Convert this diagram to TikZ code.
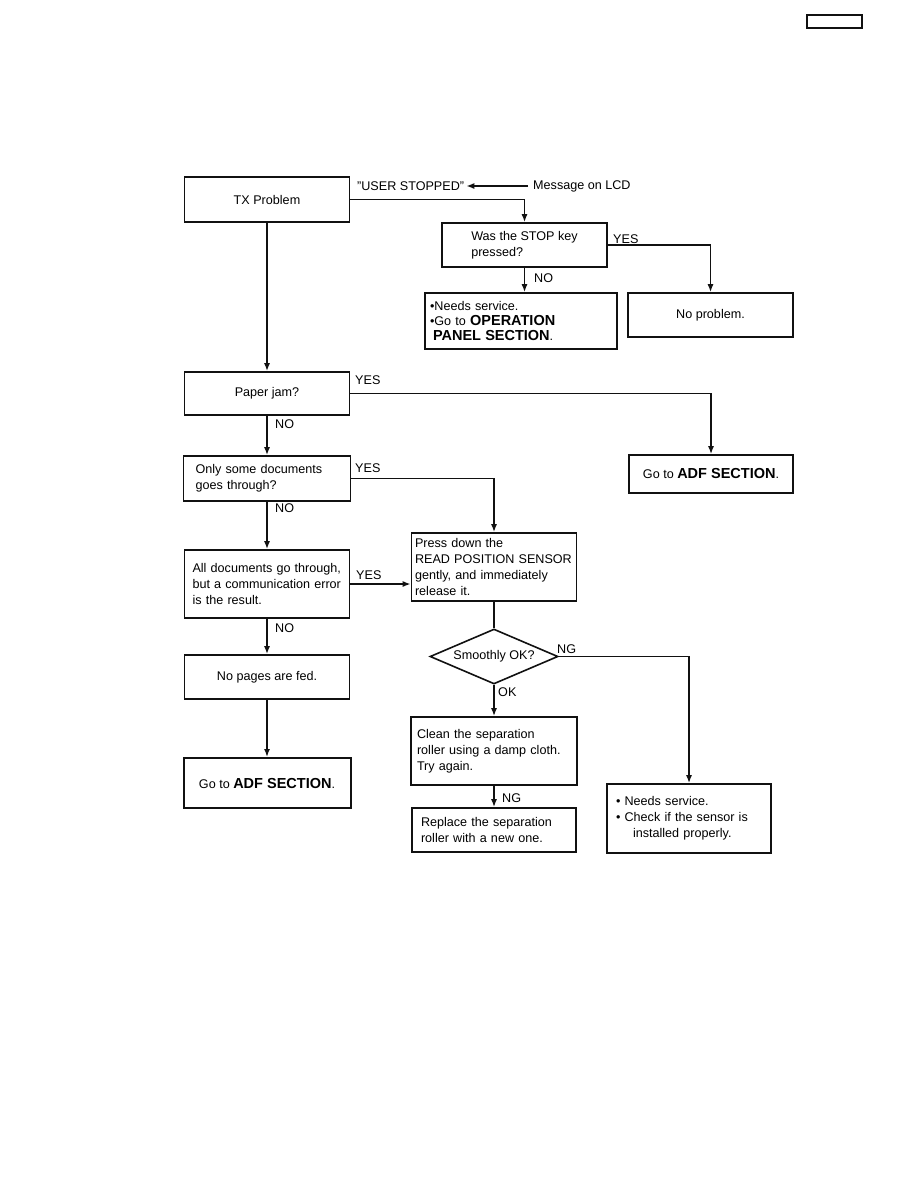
\documentclass[tikz,border=0pt]{standalone}
\usepackage{fontspec}
\setmainfont{Liberation Sans}
\usetikzlibrary{arrows.meta,positioning,shapes.geometric}
\definecolor{Ink}{HTML}{111111}
\newcommand{\flowfont}{\fontsize{12.6}{15.8}\selectfont}
\newcommand{\bigsec}[1]{{\fontsize{14.5}{16}\selectfont\bfseries #1}}
\tikzset{
  cbox/.style={rectangle,draw=Ink,line width=1.6pt,inner sep=0pt,
               font=\flowfont,align=center},
  lbox/.style={cbox,align=left,text width=#1},
  dbox/.style={diamond,draw=Ink,line width=1.6pt,inner sep=0pt,aspect=2.3,
               font=\flowfont},
  tag/.style={font=\flowfont,inner sep=0pt,anchor=west},
  farr/.style={-{Latex[length=8pt,width=6pt]},line width=1.5pt,color=Ink},
  fline/.style={line width=1.5pt,color=Ink},
}

\begin{document}
\begin{tikzpicture}[x=1pt,y=-1pt]
  \useasboundingbox (0,0) rectangle (918,1188);

  \node[rectangle,draw=Ink,line width=1.6pt,minimum width=55pt,minimum height=13pt]
    (pid) at (834.5,21.5){};

  \node[cbox,minimum width=165pt,minimum height=45pt] (tx) at (267,199.5){TX Problem};
  \node[tag] (usr) at (357,186){"USER STOPPED"};
  \node[tag] (lcd) at (533,186){Message on LCD};

  \node[cbox,align=left,minimum width=165pt,minimum height=44pt]
    (stopq) at (524.5,245){Was the STOP key\\pressed?};
  \node[lbox=182pt,minimum width=192pt,minimum height=56pt,
        font=\fontsize{12.6}{15.2}\selectfont]
    (opsvc) at (521,321){\textbullet Needs service.\\
                         \textbullet Go to \bigsec{OPERATION}\\
                         \hspace*{3pt}\bigsec{PANEL SECTION}.};
  \node[cbox,minimum width=165pt,minimum height=44pt] (noprob) at (710.5,315){No problem.};

  \node[cbox,minimum width=165pt,minimum height=43pt] (jam) at (267,393.5){Paper jam?};
  \node[cbox,minimum width=164pt,minimum height=38pt]
    (adfR) at (711,474){Go to \bigsec{ADF SECTION}.};

  \node[lbox=143pt,minimum width=167pt,minimum height=45pt]
    (some) at (267,478.5){Only some documents\\goes through?};
  \node[lbox=149pt,minimum width=165pt,minimum height=68pt]
    (allgo) at (267,584){All documents go through,\\but a communication error\\is the result.};
  \node[cbox,minimum width=165pt,minimum height=44pt] (nofeed) at (267,677){No pages are fed.};
  \node[cbox,line width=2pt,minimum width=167pt,minimum height=50pt]
    (adfL) at (267,783){Go to \bigsec{ADF SECTION}.};

  \node[lbox=158pt,minimum width=165pt,minimum height=68pt]
    (press) at (494,567){Press down the\\READ POSITION SENSOR\\gently, and immediately\\release it.};
  \node[dbox,minimum width=128pt,minimum height=55pt] (smooth) at (494,656.5){Smoothly OK?};
  \node[lbox=154pt,minimum width=166pt,minimum height=68pt]
    (clean) at (494,751){Clean the separation\\roller using a damp cloth.\\Try again.};
  \node[lbox=146pt,minimum width=164pt,minimum height=44pt]
    (replace) at (494,830){Replace the separation\\roller with a new one.};
  \node[lbox=146pt,minimum width=164pt,minimum height=69pt]
    (svc) at (689,818.5){\textbullet\ Needs service.\\
                         \textbullet\ Check if the sensor is\\
                         \hspace*{17pt}installed properly.};

  \node[tag] (yes1) at (613,239){YES};
  \node[tag] (no1)  at (534,278){NO};
  \node[tag] (yes2) at (355,380){YES};
  \node[tag] (no2)  at (275,424){NO};
  \node[tag] (yes3) at (355,468){YES};
  \node[tag] (no3)  at (275,508){NO};
  \node[tag] (yes4) at (356,575){YES};
  \node[tag] (no4)  at (275,628){NO};
  \node[tag] (ng1)  at (557,649){NG};
  \node[tag] (ok1)  at (498,692){OK};
  \node[tag] (ng2)  at (502,798){NG};

  \draw[farr] ([xshift=-5pt]lcd.west) -- ([xshift=2pt]usr.east);
  \draw[farr] (tx.east) -| (stopq.north);
  \draw[farr] (stopq.east) -| (noprob.north);
  \draw[farr] (stopq.south) -- (stopq.south |- opsvc.north);
  \draw[farr] (tx.south) -- (jam.north);
  \draw[farr] (jam.east) -| (adfR.north);
  \draw[farr] (jam.south) -- (some.north);
  \draw[farr] (some.east) -| (press.north);
  \draw[farr] (some.south) -- (allgo.north);
  \draw[farr] (allgo.east) -- (allgo.east -| press.west);
  \draw[farr] (allgo.south) -- (nofeed.north);
  \draw[farr] (nofeed.south) -- (adfL.north);
  \draw[fline] (press.south) -- (smooth.north);
  \draw[farr] (smooth.east) -| (svc.north);
  \draw[farr] (smooth.south) -- (clean.north);
  \draw[farr] (clean.south) -- (replace.north);

\end{tikzpicture}
\end{document}
